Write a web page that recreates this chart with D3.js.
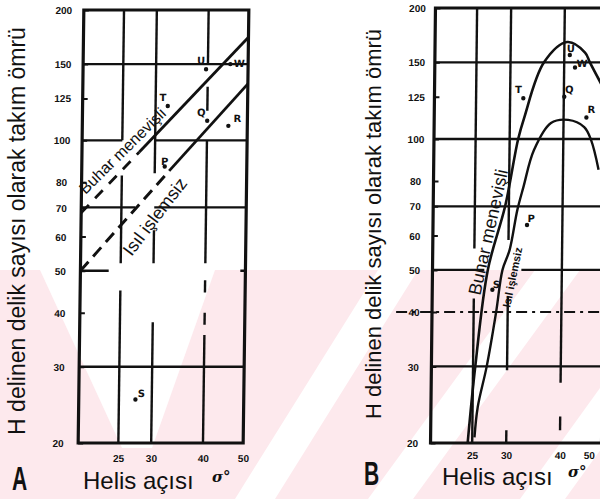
<!DOCTYPE html>
<html>
<head>
<meta charset="utf-8">
<script src="https://cdn.jsdelivr.net/npm/d3@7"></script>
<style>
  body { margin: 0; background: #fff; }
  svg { display: block; }
</style>
</head>
<body>
<svg id="chart" width="600" height="499"></svg>
<script>
// Tool life (holes drilled) against helix angle, log–log axes, two panels

// ---- shared axis content ----
const yTicks = [20, 30, 40, 50, 60, 70, 80, 100, 125, 150, 200];
const xTicks = [25, 30, 40, 50];
const yTitle = "H delinen delik sayısı olarak takım ömrü";
const xTitle = "Helis açısı";
const xUnit = "σ°";
const seriesBuhar = "Buhar menevişli";
const seriesIsil = "Isıl işlemsiz";

// ---- panel A: straight trend lines (broken part, then solid part) ----
const buharA_broken = [[20, 68], [27.5, 94]];
const buharA_solid = [[27.5, 94], [50, 173]];
const isilA_broken = [[20, 50], [32.5, 85]];
const isilA_solid = [[32.5, 85], [50, 135]];

const pointsA = [
  { x: 32.1, y: 120, label: "T" },
  { x: 39.6, y: 146, label: "U" },
  { x: 45.3, y: 150, label: "W" },
  { x: 40.0, y: 111, label: "Q" },
  { x: 45.0, y: 108, label: "R" },
  { x: 31.7, y: 87, label: "P" },
  { x: 27.4, y: 25.2, label: "S" }
];

// grid pieces of panel A: [value, [[from, to], ...]]
const gridA_h = [
  [150, [[20, 50]]],
  [100, [[20, 25], [30, 50]]],
  [70, [[20, 27], [30, 50]]],
  [50, [[20, 23.4], [48.6, 50]]],
  [30, [[20, 50]]]
];
const gridA_v = [
  [25, [[100, 200], [52, 83], [20, 45]]],
  [30, [[84, 200], [52, 62], [20, 38]]],
  [40, [[150, 200], [117, 133], [52, 100], [44.5, 47.5], [37.5, 40], [20, 35.5]]]
];

// ---- panel B: curved trends ----
const buharB = [
  [24.4, 20], [25.3, 30], [26.9, 50], [29.4, 70], [31.4, 100], [32.4, 112],
  [35.9, 150], [40.6, 167], [44.7, 158], [45.9, 150], [49.0, 133]
];
const isilB = [
  [25.3, 20.6], [25.7, 24.2], [26.9, 30], [28.2, 40], [29.1, 50], [30.2, 55.6],
  [31.4, 68.7], [32.4, 77.6], [34.2, 94.3], [37.4, 108.8], [41.0, 110.6],
  [44.7, 106.5], [46.4, 99.5], [48.4, 85]
];

const pointsB = [
  { x: 32.2, y: 124, label: "T" },
  { x: 41.2, y: 156, label: "U" },
  { x: 42.4, y: 146, label: "W" },
  { x: 40.1, y: 125, label: "Q" },
  { x: 45.2, y: 112, label: "R" },
  { x: 33.1, y: 63.4, label: "P" },
  { x: 27.6, y: 45, label: "S" }
];

const gridB_h = [
  [150, [[20, 52]]],
  [100, [[20, 52]]],
  [70, [[20, 52]]],
  [50, [[20, 26.4], [32.2, 52]]],
  [30, [[20, 52]]]
];
const gridB_dashed = [[40, [[16.5, 52]]]];
const gridB_v = [
  [25, [[56, 200], [20, 43]]],
  [30, [[58.6, 200], [29.4, 43.3], [20, 21.4]]],
  [40, [[27.5, 200], [21.4, 23]]]
];

// ---------------------------------------------------------------
const W = 600;
const svg = d3.select("#chart");
svg.append("rect").attr("width", W).attr("height", 499).attr("fill", "#fff");

// faint pink background print in the lower part of the sheet
const defs = svg.append("defs");
const wm = svg.append("g");
wm.append("rect").attr("x", 0).attr("y", 270).attr("width", W).attr("height", 229)
  .attr("fill", "#fde9ed");
const wmWhite = [
  [[40, 270], [215, 270], [152, 448], [122, 448]],
  [[235, 499], [275, 499], [418, 270], [378, 270]],
  [[368, 499], [413, 499], [580, 270], [535, 270]],
  [[520, 499], [565, 499], [730, 270], [685, 270]]
];
wm.selectAll("polygon").data(wmWhite).join("polygon")
  .attr("points", d => d.map(p => p.join(",")).join(" "))
  .attr("fill", "#fff");

const INK = "#111";

function drawPanel(p) {
  const x = d3.scaleLog().domain([20, 50]).range([p.left, p.right]);
  const y = d3.scaleLog().domain([20, 200]).range([p.bottom, p.top]);
  const cy = (p.top + p.bottom) / 2;

  const clipId = "clip" + p.name;
  defs.append("clipPath").attr("id", clipId).append("rect")
    .attr("x", p.left).attr("y", p.top)
    .attr("width", Math.min(p.right, W) - p.left).attr("height", p.bottom - p.top);

  const g = svg.append("g")
    .attr("transform", `translate(0,${cy}) skewX(${p.skew}) translate(0,${-cy})`);

  // grid pieces
  p.gridH.forEach(([v, segs]) => segs.forEach(([a, b]) => {
    g.append("line").attr("x1", x(a)).attr("x2", x(b)).attr("y1", y(v)).attr("y2", y(v))
      .attr("stroke", INK).attr("stroke-width", 2.4);
  }));
  (p.gridDashed || []).forEach(([v, segs]) => segs.forEach(([a, b]) => {
    g.append("line").attr("x1", x(a)).attr("x2", x(b)).attr("y1", y(v)).attr("y2", y(v))
      .attr("stroke", INK).attr("stroke-width", 2).attr("stroke-dasharray", "11,5,3,5");
  }));
  p.gridV.forEach(([v, segs]) => segs.forEach(([a, b]) => {
    g.append("line").attr("x1", x(v)).attr("x2", x(v)).attr("y1", y(a)).attr("y2", y(b))
      .attr("stroke", INK).attr("stroke-width", 2.4);
  }));

  // frame
  const frame = [[p.left, p.top], [p.right, p.top], [p.right, p.bottom], [p.left, p.bottom]];
  g.append("path").attr("d", "M" + frame.map(q => q.join(",")).join("L") + "Z")
    .attr("fill", "none").attr("stroke", INK).attr("stroke-width", 3.2);

  // axes
  const ya = d3.axisLeft(y).tickValues(yTicks).tickFormat(d3.format("d"))
    .tickSize(-5).tickPadding(0);
  const yg = g.append("g").attr("transform", `translate(${p.left},0)`).call(ya);
  yg.select(".domain").remove();
  yg.selectAll(".tick line").attr("stroke", INK).attr("stroke-width", 2);
  yg.selectAll(".tick text").attr("x", -p.labelGap).attr("text-anchor", "middle")
    .attr("dy", "0.36em")
    .style("font", "bold 10px 'Liberation Sans', Arial, sans-serif").attr("fill", INK);

  const xa = d3.axisBottom(x).tickValues(xTicks).tickFormat(d3.format("d"))
    .tickSize(0).tickPadding(p.xLabelPad);
  const xg = g.append("g").attr("transform", `translate(0,${p.bottom})`).call(xa);
  xg.select(".domain").remove();
  xg.selectAll(".tick text")
    .style("font", "bold 10px 'Liberation Sans', Arial, sans-serif").attr("fill", INK);
  // keep a label that would run past the sheet edge inside it
  xg.selectAll(".tick text").filter(d => x(d) > W - 8)
    .attr("text-anchor", "end").attr("x", d => W - 3 - x(d));

  const line = d3.line().x(d => x(d[0])).y(d => y(d[1]));
  const curves = g.append("g").attr("clip-path", `url(#${clipId})`);
  p.drawTrends(curves, line);

  // data points with their letter marks
  const pts = g.append("g");
  p.points.forEach(d => {
    pts.append("circle").attr("cx", x(d.x)).attr("cy", y(d.y)).attr("r", 2.2).attr("fill", INK);
    const o = p.labelOffsets[d.label] || [5, -5];
    pts.append("text").attr("x", x(d.x) + o[0]).attr("y", y(d.y) + o[1])
      .attr("text-anchor", "middle")
      .style("font", "bold 10px 'DejaVu Sans', sans-serif").attr("fill", INK)
      .text(d.label);
  });

  p.drawLabels(g);
}

// ---------------- panel A ----------------
drawPanel({
  name: "A", left: 81, right: 246, top: 10, bottom: 443, skew: -0.75,
  labelGap: 20, xLabelPad: 12,
  gridH: gridA_h, gridV: gridA_v, points: pointsA,
  labelOffsets: { T: [-5, -5], U: [-5, -5], W: [9, 3], Q: [-6, -5], R: [9, -4], P: [0, -2], S: [6, -3] },
  drawTrends(g, line) {
    g.append("path").attr("d", line(buharA_broken)).attr("fill", "none")
      .attr("stroke", INK).attr("stroke-width", 2.8).attr("stroke-dasharray", "11,9");
    g.append("path").attr("d", line(buharA_solid)).attr("fill", "none")
      .attr("stroke", INK).attr("stroke-width", 2.8);
    g.append("path").attr("d", line(isilA_broken)).attr("fill", "none")
      .attr("stroke", INK).attr("stroke-width", 3).attr("stroke-dasharray", "12,7");
    g.append("path").attr("d", line(isilA_solid)).attr("fill", "none")
      .attr("stroke", INK).attr("stroke-width", 2.8);
  },
  drawLabels(g) {
    g.append("text").attr("transform", "translate(85,195) rotate(-45)")
      .style("font", "16px 'Liberation Sans', Arial, sans-serif").attr("fill", INK)
      .text(seriesBuhar);
    g.append("text").attr("transform", "translate(132,257) rotate(-53)")
      .style("font", "18px 'Liberation Sans', Arial, sans-serif").attr("fill", INK)
      .text(seriesIsil);
  }
});

// ---------------- panel B ----------------
drawPanel({
  name: "B", left: 433, right: 604, top: 8, bottom: 443, skew: -0.65,
  labelGap: 18, xLabelPad: 9,
  gridH: gridB_h, gridDashed: gridB_dashed, gridV: gridB_v, points: pointsB,
  labelOffsets: { T: [-5, -5], U: [1, -3], W: [7, 0], Q: [5, -4], R: [5, -5], P: [4, -3], S: [4, -2] },
  drawTrends(g, line) {
    const smooth = d3.line().curve(d3.curveCatmullRom.alpha(0.5)).x(line.x()).y(line.y());
    g.append("path").attr("d", smooth(buharB)).attr("fill", "none")
      .attr("stroke", INK).attr("stroke-width", 2.6);
    g.append("path").attr("d", smooth(isilB)).attr("fill", "none")
      .attr("stroke", INK).attr("stroke-width", 2.4);
  },
  drawLabels(g) {
    g.append("text").attr("transform", "translate(481,296) rotate(-78)")
      .style("font", "18px 'Liberation Sans', Arial, sans-serif").attr("fill", INK)
      .text(seriesBuhar);
    g.append("text").attr("transform", "translate(511,308) rotate(-79)")
      .style("font", "bold 11px 'Liberation Sans Narrow', 'Liberation Sans', Arial, sans-serif")
      .attr("fill", INK).text(seriesIsil);
  }
});

// ---------------- titles ----------------
const titleFont = "'Liberation Sans', Arial, sans-serif";
[
  { tx: 25, ty: 231, size: 23 },
  { tx: 381, ty: 224, size: 22 }
].forEach(t => {
  svg.append("text").attr("transform", `translate(${t.tx},${t.ty}) rotate(-90)`)
    .attr("text-anchor", "middle").style("font", `${t.size}px ${titleFont}`)
    .attr("fill", INK).text(yTitle);
});
[
  { tx: 83, ty: 489, ux: 212, uy: 482 },
  { tx: 442, ty: 485, ux: 568, uy: 477 }
].forEach(t => {
  svg.append("text").attr("x", t.tx).attr("y", t.ty)
    .style("font", `24px ${titleFont}`).attr("fill", INK).text(xTitle);
  svg.append("text").attr("x", t.ux).attr("y", t.uy)
    .style("font", "italic bold 15px 'DejaVu Serif', serif").attr("fill", INK).text(xUnit);
});
[
  { t: "A", tx: 12, ty: 490 },
  { t: "B", tx: 364, ty: 485 }
].forEach(d => {
  svg.append("text").attr("transform", `translate(${d.tx},${d.ty}) scale(0.62,1)`)
    .style("font", `bold 34px ${titleFont}`).attr("fill", INK).text(d.t);
});
</script>
</body>
</html>
